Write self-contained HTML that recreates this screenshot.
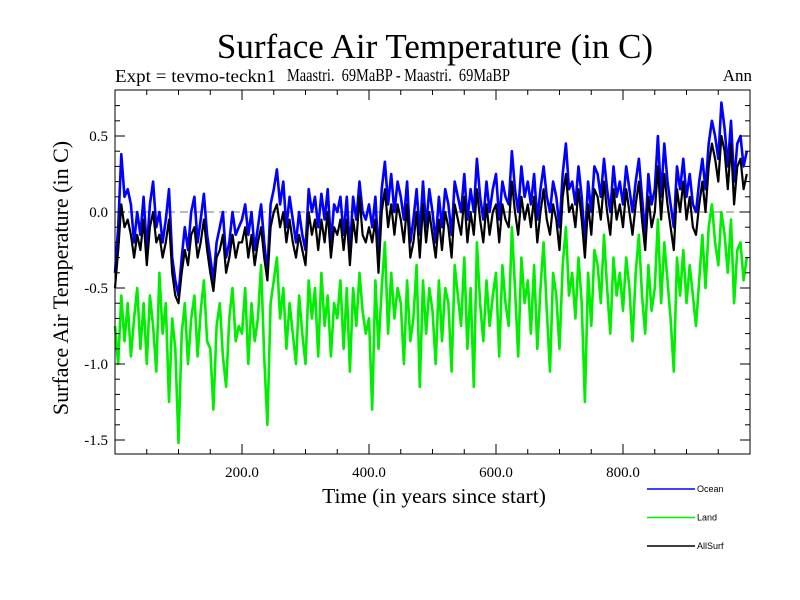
<!DOCTYPE html>
<html><head><meta charset="utf-8"><style>
html,body{margin:0;padding:0;background:#fff;}
svg{display:block;font-family:"Liberation Serif",serif;}
</style></head><body>
<svg id="chart" width="800" height="600">
<text x="435" y="58" font-size="35" text-anchor="middle">Surface Air Temperature (in C)</text>
<text x="115" y="82" font-size="18" textLength="161" lengthAdjust="spacingAndGlyphs">Expt = tevmo-teckn1</text>
<text x="287" y="81" font-size="18" textLength="223" lengthAdjust="spacingAndGlyphs" style="white-space:pre">Maastri.  69MaBP - Maastri.  69MaBP</text>
<text x="752" y="81" font-size="17" text-anchor="end">Ann</text>
<text x="434" y="503" font-size="21.5" text-anchor="middle">Time (in years since start)</text>
<text transform="translate(68,278) rotate(-90)" font-size="22" text-anchor="middle">Surface Air Temperature (in C)</text>
<g id="plot"></g>
<g id="legend"></g>
</svg>
<script>
const years = Array.from({length:200},(_, i)=>i*5);
const ocean = [-0.4,-0.1,0.38,0.1,0.15,0.05,-0.2,0.0,-0.15,0.1,-0.25,0.05,0.2,-0.1,0.0,-0.2,-0.05,0.15,-0.3,-0.45,
-0.55,-0.3,-0.1,-0.25,0.0,0.1,-0.2,-0.05,0.12,-0.15,-0.3,-0.45,-0.2,-0.1,0.0,-0.3,-0.2,0.0,-0.15,-0.1,
-0.05,0.05,-0.15,0.0,-0.25,-0.1,0.05,-0.2,-0.4,0.05,0.15,0.28,0.05,0.2,-0.1,0.1,-0.05,-0.2,0.0,-0.15,
-0.25,0.15,0.0,0.1,-0.1,0.12,-0.05,0.15,-0.2,0.05,0.0,0.1,-0.15,0.1,-0.25,0.1,-0.05,0.2,0.0,-0.05,
0.05,-0.1,0.1,-0.3,0.15,0.33,0.05,0.25,0.0,0.2,0.1,-0.05,0.2,-0.2,-0.05,0.15,-0.15,0.2,-0.1,0.15,
0.0,-0.2,0.1,-0.1,0.15,0.05,-0.15,0.2,0.1,0.0,0.25,-0.05,0.15,0.0,0.35,0.1,-0.05,0.2,0.0,0.15,
0.25,-0.05,0.2,0.1,0.05,0.4,0.15,0.0,0.3,0.1,0.2,0.05,0.25,-0.05,0.15,0.3,0.1,0.0,0.2,0.1,
-0.1,0.25,0.45,0.15,0.2,0.05,0.3,0.1,-0.2,0.2,0.0,0.3,0.25,0.1,0.35,0.15,0.0,0.3,0.1,0.2,
0.05,0.3,0.15,0.0,0.2,0.35,0.1,-0.15,0.25,0.05,0.15,0.5,0.1,0.45,0.2,0.05,-0.1,0.3,0.15,0.35,
0.1,0.25,0.05,0.0,0.2,0.35,0.15,0.45,0.6,0.5,0.35,0.72,0.55,0.3,0.6,0.2,0.45,0.5,0.3,0.4];
const allsurf = [-0.5,-0.25,0.05,-0.1,-0.05,-0.15,-0.3,-0.15,-0.25,-0.05,-0.35,-0.1,0.0,-0.2,-0.15,-0.3,-0.2,-0.05,-0.4,-0.55,
-0.6,-0.4,-0.25,-0.35,-0.15,-0.1,-0.3,-0.2,-0.05,-0.25,-0.4,-0.52,-0.3,-0.25,-0.15,-0.4,-0.3,-0.15,-0.3,-0.2,
-0.2,-0.1,-0.3,-0.15,-0.35,-0.2,-0.1,-0.3,-0.45,-0.1,0.0,0.05,-0.1,0.0,-0.2,-0.05,-0.2,-0.3,-0.15,-0.25,
-0.35,0.0,-0.15,-0.05,-0.25,-0.05,-0.2,0.0,-0.3,-0.1,-0.15,-0.05,-0.25,-0.05,-0.35,-0.05,-0.2,0.1,-0.15,-0.2,
-0.1,-0.2,-0.05,-0.4,0.0,0.15,-0.1,0.05,-0.15,0.05,-0.05,-0.2,0.05,-0.3,-0.2,0.0,-0.3,0.05,-0.2,0.0,
-0.15,-0.3,-0.05,-0.25,0.0,-0.1,-0.3,0.05,-0.05,-0.15,0.1,-0.2,0.0,-0.15,0.15,-0.05,-0.2,0.05,-0.15,0.0,
0.05,-0.2,0.05,-0.05,-0.1,0.2,0.0,-0.15,0.1,-0.05,0.05,-0.1,0.1,-0.2,0.0,0.15,-0.05,-0.15,0.05,-0.05,
-0.25,0.1,0.25,0.0,0.05,-0.1,0.15,-0.05,-0.3,0.05,-0.15,0.15,0.1,-0.05,0.2,0.0,-0.15,0.15,-0.05,0.05,
-0.1,0.15,0.0,-0.15,0.05,0.2,-0.05,-0.25,0.1,-0.1,0.0,0.3,-0.05,0.25,0.05,-0.1,-0.25,0.15,0.0,0.2,
-0.05,0.1,-0.1,-0.15,0.05,0.2,0.0,0.3,0.45,0.35,0.2,0.5,0.4,0.15,0.45,0.05,0.3,0.35,0.15,0.25];
const land = [-0.75,-1.0,-0.55,-0.85,-0.6,-0.95,-0.7,-0.5,-0.9,-0.6,-1.0,-0.55,-0.75,-1.05,-0.4,-0.8,-0.6,-1.25,-0.7,-0.9,
-1.52,-0.8,-0.6,-1.0,-0.7,-0.55,-0.95,-0.65,-0.45,-0.85,-0.9,-1.3,-0.75,-0.6,-0.95,-1.15,-0.7,-0.5,-0.85,-0.75,
-0.8,-0.5,-1.0,-0.6,-0.85,-0.7,-0.35,-0.95,-1.4,-0.6,-0.45,-0.3,-0.7,-0.5,-0.9,-0.6,-0.8,-1.0,-0.55,-0.8,
-1.0,-0.45,-0.7,-0.5,-0.95,-0.4,-0.75,-0.55,-0.95,-0.6,-0.7,-0.45,-0.9,-0.5,-1.05,-0.5,-0.75,-0.4,-0.65,-0.8,
-0.7,-1.3,-0.45,-0.9,-0.5,-0.2,-0.8,-0.4,-0.7,-0.5,-0.6,-1.0,-0.45,-0.85,-0.7,-0.35,-1.15,-0.45,-0.8,-0.5,
-0.65,-1.0,-0.45,-0.85,-0.5,-0.6,-1.05,-0.35,-0.55,-0.75,-0.3,-0.9,-0.5,-1.15,-0.2,-0.6,-0.85,-0.45,-0.75,-0.55,
-0.4,-0.95,-0.35,-0.6,-0.75,-0.1,-0.5,-0.95,-0.3,-0.6,-0.45,-0.8,-0.35,-0.9,-0.5,-0.2,-0.65,-1.05,-0.4,-0.55,
-0.9,-0.35,-0.1,-0.55,-0.4,-0.7,-0.3,-0.6,-1.25,-0.4,-0.75,-0.25,-0.35,-0.6,-0.15,-0.5,-0.8,-0.3,-0.55,-0.4,
-0.65,-0.3,-0.5,-0.85,-0.4,-0.15,-0.55,-0.8,-0.35,-0.65,-0.5,-0.05,-0.6,-0.2,-0.45,-0.7,-1.05,-0.3,-0.55,-0.25,
-0.6,-0.35,-0.55,-0.75,-0.45,-0.15,-0.5,-0.1,0.05,-0.2,-0.35,0.0,-0.15,-0.4,-0.05,-0.6,-0.25,-0.2,-0.45,-0.3];
const xTicks = [200,400,600,800];
const xTickLabels = ["200.0","400.0","600.0","800.0"];
const yTicks = [0.5,0.0,-0.5,-1.0,-1.5];
const yTickLabels = ["0.5","0.0","-0.5","-1.0","-1.5"];
const seriesNames = ["Ocean","Land","AllSurf"];

const L=115,R=750,T=90,B=454, Y0=212, PPU=152;
const xs = v => L + v*(R-L)/1000;
const ys = v => Y0 - v*PPU;
const NS="http://www.w3.org/2000/svg";
const plot=document.getElementById('plot');
function mk(tag,attrs,parent){const e=document.createElementNS(NS,tag);for(const k in attrs)e.setAttribute(k,attrs[k]);parent.appendChild(e);return e;}

const z=mk('line',{x1:L,x2:R,y1:ys(0),y2:ys(0),stroke:'#777','stroke-dasharray':'8,5','stroke-width':1},plot);



const colors={Ocean:'#0000ff',Land:'#00ee00',AllSurf:'#000000'};
const widths={Ocean:2.6,Land:2.6,AllSurf:2.2};
const data={Ocean:ocean,Land:land,AllSurf:allsurf};
["Land","Ocean","AllSurf"].forEach(n=>{
  const d=data[n].map((v,i)=>(i?'L':'M')+xs(years[i]).toFixed(1)+','+ys(v).toFixed(1)).join('');
  const p=mk('path',{d:d,fill:'none',stroke:colors[n],'stroke-width':widths[n],'stroke-linejoin':'round'},plot);
  
  
});

const fr=mk('rect',{x:L,y:T,width:R-L,height:B-T,fill:'none',stroke:'#000','stroke-width':1},plot);



for(let v=50;v<1000;v+=50){
  const major=v%200===0, len=major?10:5;
  mk('line',{x1:xs(v),x2:xs(v),y1:B,y2:B-len,stroke:'#000'},plot);
  mk('line',{x1:xs(v),x2:xs(v),y1:T,y2:T+len,stroke:'#000'},plot);
}
xTicks.forEach((v,i)=>{
  const t=mk('text',{x:xs(v),y:B+23,'font-size':15,'text-anchor':'middle'},plot);
  t.textContent=xTickLabels[i];
  
  
});
for(let k=-15;k<=7;k++){
  const v=k/10, major=k%5===0, len=major?10:5;
  mk('line',{x1:L,x2:L+len,y1:ys(v),y2:ys(v),stroke:'#000'},plot);
  mk('line',{x1:R,x2:R-len,y1:ys(v),y2:ys(v),stroke:'#000'},plot);
}
yTicks.forEach((v,i)=>{
  const t=mk('text',{x:L-7,y:ys(v)+5,'font-size':15,'text-anchor':'end'},plot);
  t.textContent=yTickLabels[i];
  
  
});
const lg=document.getElementById('legend');
seriesNames.forEach((n,i)=>{
  const y=489+i*28.5;
  const ln=mk('line',{x1:647,x2:695,y1:y,y2:y,stroke:colors[n],'stroke-width':1.5},lg);
  
  
  const t=mk('text',{x:697,y:y+3,'font-size':9,'font-family':'Liberation Sans, sans-serif'},lg);
  t.textContent=n;
  
  
});
</script>
</body></html>
